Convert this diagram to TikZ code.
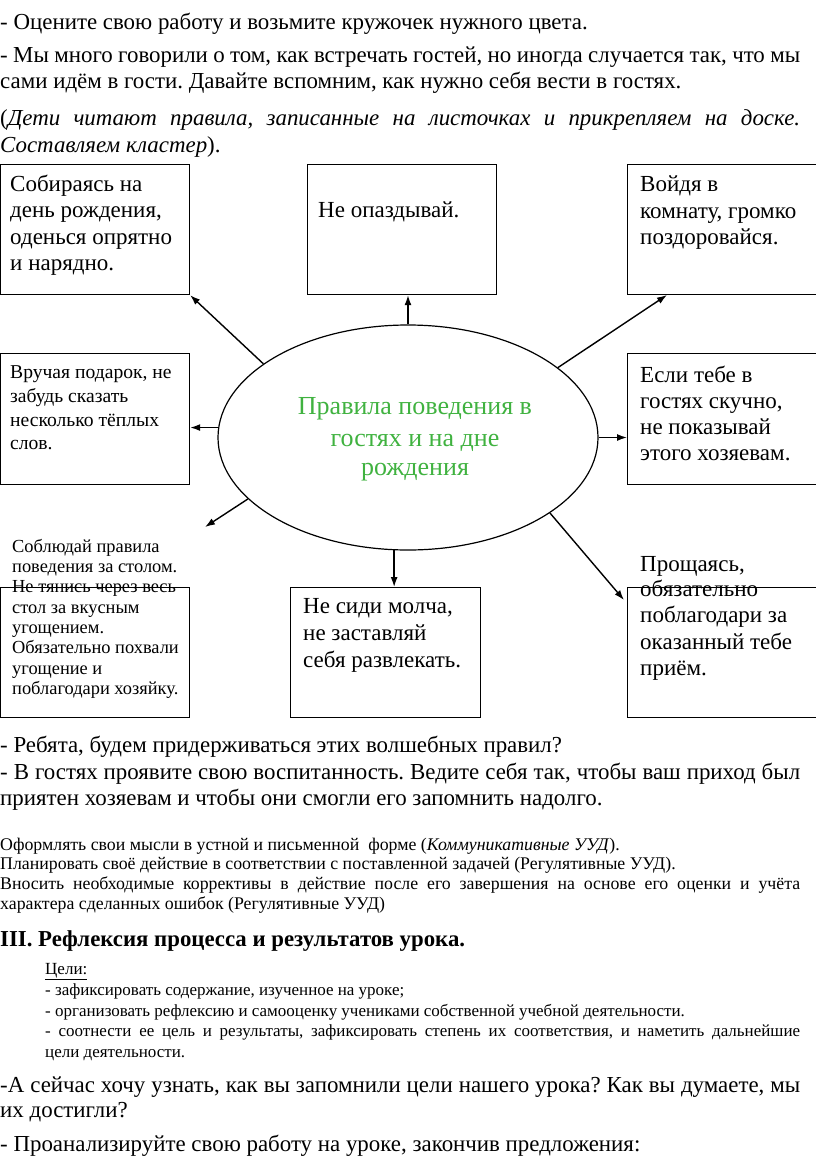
\documentclass[tikz,border=0pt]{standalone}
\usepackage{fontspec}
\setmainfont{Liberation Serif}
\usetikzlibrary{shapes.geometric,arrows.meta}
\definecolor{titlegreen}{RGB}{64,178,64}
\frenchspacing
\begin{document}
\begin{tikzpicture}[x=1pt,y=-1pt,
  tbig/.style={anchor=base west,inner sep=0,font=\fontsize{22.9}{26}\selectfont},
  tbox/.style={anchor=base west,inner sep=0,font=\fontsize{23}{26}\selectfont},
  tmid/.style={anchor=base west,inner sep=0,font=\fontsize{19.6}{23}\selectfont},
  tsmall/.style={anchor=base west,inner sep=0,font=\fontsize{18.4}{20}\selectfont},
  tnote/.style={anchor=base west,inner sep=0,font=\fontsize{17.8}{19}\selectfont},
  tgoal/.style={anchor=base west,inner sep=0,font=\fontsize{17}{18}\selectfont},
  thead/.style={anchor=base west,inner sep=0,font=\fontsize{22.8}{24}\selectfont\bfseries},
  tgreen/.style={anchor=base,inner sep=0,text=titlegreen,font=\fontsize{26}{29}\selectfont},
  rulebox/.style={draw,line width=1.2pt,anchor=north west,inner sep=0,minimum height=130pt},
  arr/.style={line width=1.4pt,-{Latex[length=10pt,width=7pt]}}
]
\useasboundingbox (0,0) rectangle (816,1167);

% top text
\node[tbig] (l1) at (0,29) {- Оцените свою работу и возьмите кружочек нужного цвета.};
\node[tbig] (l2) at (0,62) {\makebox[800pt][s]{- Мы много говорили о том, как встречать гостей, но иногда случается так, что мы}};
\node[tbig] (l3) at (0,88) {сами идём в гости. Давайте вспомним, как нужно себя вести в гостях.};
\node[tbig] (l4) at (0,125) {\makebox[800pt][s]{(\textit{Дети читают правила, записанные на листочках и прикрепляем на доске.}}};
\node[tbig] (l5) at (0,152) {\textit{Составляем кластер}).};

% boxes
\node[rulebox,minimum width=189pt] (tl) at (0,164) {};
\node[rulebox,minimum width=189pt] (tm) at (307,164) {};
\node[rulebox,minimum width=189pt] (tr) at (627,164) {};
\node[rulebox,minimum width=189pt,minimum height=131pt] (ml) at (0,353) {};
\node[rulebox,minimum width=189pt,minimum height=131pt] (mr) at (627,353) {};
\node[rulebox,minimum width=189pt] (bl) at (0,587) {};
\node[rulebox,minimum width=190pt] (bm) at (290,587) {};
\node[rulebox,minimum width=189pt] (br) at (627,587) {};

% ellipse
\node[draw,ellipse,line width=1.2pt,minimum width=380pt,minimum height=225pt,inner sep=0] (e) at (408,437.5) {};
\node[tgreen] (g1) at (415,414) {Правила поведения в};
\node[tgreen] (g2) at (415,446) {гостях и на дне};
\node[tgreen] (g3) at (415,475) {рождения};

% box texts
\node[tbox] (a1) at (10,191) {Собираясь на};
\node[tbox] (a2) at (10,217) {день рождения,};
\node[tbox] (a3) at (10,244) {оденься опрятно};
\node[tbox] (a4) at (10,270) {и нарядно.};

\node[tbox] (b1) at (318,217) {Не опаздывай.};

\node[tbox] (c1) at (640,191) {Войдя в};
\node[tbox] (c2) at (640,218) {комнату, громко};
\node[tbox] (c3) at (640,244) {поздоровайся.};

\node[tmid] (d1) at (10,378) {Вручая подарок, не};
\node[tmid] (d2) at (10,402) {забудь сказать};
\node[tmid] (d3) at (10,426) {несколько тёплых};
\node[tmid] (d4) at (10,449) {слов.};

\node[tbox] (f1) at (640,382) {Если тебе в};
\node[tbox] (f2) at (640,408) {гостях скучно,};
\node[tbox] (f3) at (640,434) {не показывай};
\node[tbox] (f4) at (640,460) {этого хозяевам.};

\node[tsmall] (h1) at (12,552) {Соблюдай правила};
\node[tsmall] (h2) at (12,572) {поведения за столом.};
\node[tsmall] (h3) at (12,592) {Не тянись через весь};
\node[tsmall] (h4) at (12,613) {стол за вкусным};
\node[tsmall] (h5) at (12,633) {угощением.};
\node[tsmall] (h6) at (12,653) {Обязательно похвали};
\node[tsmall] (h7) at (12,674) {угощение и};
\node[tsmall] (h8) at (12,694) {поблагодари хозяйку.};

\node[tbox] (k1) at (303,613) {Не сиди молча,};
\node[tbox] (k2) at (303,640) {не заставляй};
\node[tbox] (k3) at (303,667) {себя развлекать.};

\node[tbox] (m1) at (640,571) {Прощаясь,};
\node[tbox] (m2) at (640,596) {обязательно};
\node[tbox] (m3) at (640,622) {поблагодари за};
\node[tbox] (m4) at (640,649) {оказанный тебе};
\node[tbox] (m5) at (640,675) {приём.};

% arrows
\coordinate (trtip) at (667,295);
\coordinate (lltip) at (205,527);
\coordinate (lrtip) at (624,600);
\draw[arr] (e.153.6) -- (tl.south east);
\draw[arr] (e.north) -- (e.north |- tm.south);
\draw[arr] (e.25.6) -- (trtip);
\draw[arr] (e.177) -- (e.177 -| ml.east);
\draw[arr] (e.east) -- (e.east -| mr.west);
\draw[arr] (e.201.4) -- (lltip);
\draw[arr] (e.263.4) -- (e.263.4 |- bm.north);
\draw[arr] (e.332.2) -- (lrtip);

% lower text
\node[tbig] (n1) at (0,752) {- Ребята, будем придерживаться этих волшебных правил?};
\node[tbig] (n2) at (0,779) {\makebox[800pt][s]{- В гостях проявите свою воспитанность. Ведите себя так, чтобы ваш приход был}};
\node[tbig] (n3) at (0,805) {приятен хозяевам и чтобы они смогли его запомнить надолго.};

\node[tnote] (p1) at (0,850) {Оформлять свои мысли в устной и письменной\ \ форме (\textit{Коммуникативные УУД}).};
\node[tnote] (p2) at (0,869) {Планировать своё действие в соответствии с поставленной задачей (Регулятивные УУД).};
\node[tnote] (p3) at (0,889) {\makebox[800pt][s]{Вносить необходимые коррективы в действие после его завершения на основе его оценки и учёта}};
\node[tnote] (p4) at (0,909) {характера сделанных ошибок (Регулятивные УУД)};

\node[thead] (q1) at (0,946) {III. Рефлексия процесса и результатов урока.};

\node[tgoal] (r1) at (45,974) {\underline{Цели:}};
\node[tgoal] (r2) at (45,995) {- зафиксировать содержание, изученное на уроке;};
\node[tgoal] (r3) at (45,1016) {- организовать рефлексию и самооценку учениками собственной учебной деятельности.};
\node[tgoal] (r4) at (45,1036) {\makebox[755pt][s]{- соотнести ее цель и результаты, зафиксировать степень их соответствия, и наметить дальнейшие}};
\node[tgoal] (r5) at (45,1057) {цели деятельности.};

\node[tbig] (s1) at (0,1092) {\makebox[800pt][s]{-А сейчас хочу узнать, как вы запомнили цели нашего урока? Как вы думаете, мы}};
\node[tbig] (s2) at (0,1117) {их достигли?};
\node[tbig] (s3) at (0,1151) {- Проанализируйте свою работу на уроке, закончив предложения:};
\end{tikzpicture}
\end{document}
